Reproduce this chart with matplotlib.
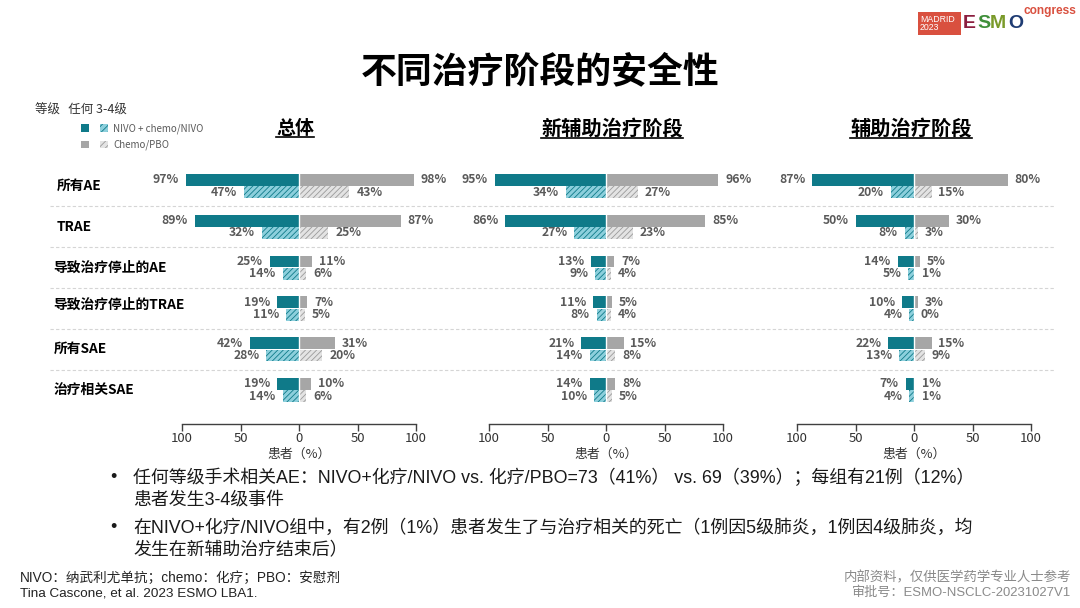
import matplotlib
matplotlib.use("Agg")
import matplotlib.pyplot as plt
import matplotlib.transforms as mtransforms
from matplotlib.patches import Rectangle
from matplotlib.lines import Line2D

plt.rcParams['font.family'] = ['Noto Sans CJK SC', 'DejaVu Sans']
plt.rcParams['hatch.linewidth'] = 0.6
ARIAL_CJK = ['Liberation Sans', 'Noto Sans CJK SC']

# data
categories = ["所有AE", "TRAE", "导致治疗停止的AE", "导致治疗停止的TRAE", "所有SAE", "治疗相关SAE"]
panel_titles = ["总体", "新辅助治疗阶段", "辅助治疗阶段"]

nivo_any = [[97, 89, 25, 19, 42, 19], [95, 86, 13, 11, 21, 14], [87, 50, 14, 10, 22, 7]]
nivo_34 = [[47, 32, 14, 11, 28, 14], [34, 27, 9, 8, 14, 10], [20, 8, 5, 4, 13, 4]]
pbo_any = [[98, 87, 11, 7, 31, 10], [96, 85, 7, 5, 15, 8], [80, 30, 5, 3, 15, 1]]
pbo_34 = [[43, 25, 6, 5, 20, 6], [27, 23, 4, 4, 8, 5], [15, 3, 1, 0, 9, 1]]

xticks = [-100, -50, 0, 50, 100]
xtick_labels = ["100", "50", "0", "50", "100"]

TEAL = "#0f7a89"
TEAL_L = "#8ccfdc"
GRAY = "#a6a6a6"
GRAY_L = "#e3e3e3"
GRAY_H = "#9a9a9a"
TXT = "#5a5a5a"

W, H = 1080, 608
fig = plt.figure(figsize=(10.8, 6.08), dpi=100)
fig.patch.set_facecolor("white")
renderer = fig.canvas.get_renderer()


def fx(px):
    return px / W


def fy(py):
    return 1 - py / H


def fit(t, width_px):
    # scale a text's font size so it spans roughly the width seen on the slide
    w = t.get_window_extent(renderer=renderer).width
    t.set_fontsize(t.get_fontsize() * width_px / w)


panel_left = [182, 489, 797]
panel_w = 234
ax_top, ax_bot = 165, 424
bh = 0.29
axes = []
for p in range(3):
    ax = fig.add_axes([fx(panel_left[p]), fy(ax_bot), fx(panel_w), (ax_bot - ax_top) / H])
    axes.append(ax)
    ax.set_xlim(-100, 100)
    ax.set_ylim(5.83, -0.515)
    ys = list(range(len(categories)))
    y1 = [y - 0.15 for y in ys]
    y2 = [y + 0.15 for y in ys]
    ax.barh(y1, [-v for v in nivo_any[p]], height=bh, color=TEAL, linewidth=0)
    ax.barh(y1, pbo_any[p], height=bh, color=GRAY, linewidth=0)
    ax.barh(y2, [-v for v in nivo_34[p]], height=bh, color=TEAL_L, edgecolor=TEAL,
            hatch="//////", linewidth=0)
    ax.barh(y2, pbo_34[p], height=bh, color=GRAY_L, edgecolor=GRAY_H,
            hatch="//////", linewidth=0)
    ax.axvline(0, color="white", lw=1.0)
    for i in ys:
        for val, yy, side in [(nivo_any[p][i], y1[i], -1), (pbo_any[p][i], y1[i], 1),
                              (nivo_34[p][i], y2[i], -1), (pbo_34[p][i], y2[i], 1)]:
            ax.annotate(f"{val}%", (side * val, yy), xytext=(side * 5, 0),
                        textcoords="offset points", ha="right" if side < 0 else "left",
                        va="center", fontsize=8.8, color=TXT, fontweight="bold",
                        annotation_clip=False)
    for s in ["top", "right", "left"]:
        ax.spines[s].set_visible(False)
    ax.spines["bottom"].set_color("#404040")
    ax.spines["bottom"].set_linewidth(1.0)
    ax.set_yticks([])
    ax.set_xticks(xticks)
    ax.set_xticklabels(xtick_labels)
    ax.tick_params(axis="x", direction="out", length=5, width=1.0, color="#404040",
                   labelsize=9.5, labelcolor="#333333", pad=1)
    ax.set_xlabel("患者（%）", fontsize=9.3, color="#333333", labelpad=2)
    ax.patch.set_alpha(0)

# dashed row separators across the page
blend = mtransforms.blended_transform_factory(fig.transFigure, axes[0].transData)
for i in range(len(categories) - 1):
    fig.add_artist(Line2D([fx(50), fx(1055)], [i + 0.5, i + 0.5], transform=blend,
                          color="#d5d5d5", lw=0.8, ls=(0, (3, 2)), zorder=0))

# row labels
label_px = [57, 57, 53, 53, 54, 54]
label_dy = [0, 0, 0, -0.1, 0, 0]
for i, cat in enumerate(categories):
    fig.text(fx(label_px[i]), i + label_dy[i], cat, transform=blend, fontsize=9.9,
             fontweight="bold", color="black", va="center", ha="left")

# titles
t = fig.text(0.5, fy(72), "不同治疗阶段的安全性", fontsize=20, fontweight="bold",
             ha="center", va="center", color="black")
fit(t, 358)
sub_x = [295, 612, 911]
sub_w = [38, 142, 122]
sub_texts = []
for p in range(3):
    t = fig.text(fx(sub_x[p]), fy(129), panel_titles[p], fontsize=14, fontweight="bold",
                 ha="center", va="center", color="black")
    fit(t, sub_w[p])
    sub_texts.append(t)

# legend
fig.text(fx(35), fy(110), "等级   任何 3-4级", fontsize=9, color="#333333", va="center")
for row, (c1, c2, ec, lab) in enumerate([(TEAL, TEAL_L, TEAL, "NIVO + chemo/NIVO"),
                                         (GRAY, GRAY_L, GRAY_H, "Chemo/PBO")]):
    yc = 128.5 + row * 16
    fig.add_artist(Rectangle((fx(81), fy(yc + 3.5)), fx(8), 7.5 / H, transform=fig.transFigure,
                             facecolor=c1, linewidth=0))
    fig.add_artist(Rectangle((fx(100), fy(yc + 3.5)), fx(8), 7.5 / H, transform=fig.transFigure,
                             facecolor=c2, edgecolor=ec, hatch="/////", linewidth=0))
    fig.text(fx(113), fy(yc), lab, fontsize=7, color=TXT, va="center")

# bullets
bullets = [
    ("任何等级手术相关AE：NIVO+化疗/NIVO vs. 化疗/PBO=73（41%） vs. 69（39%）；每组有21例（12%）", 478),
    ("患者发生3-4级事件", 500),
    ("在NIVO+化疗/NIVO组中，有2例（1%）患者发生了与治疗相关的死亡（1例因5级肺炎，1例因4级肺炎，均", 528),
    ("发生在新辅助治疗结束后）", 551),
]
btexts = []
for txt, yy in bullets:
    btexts.append(fig.text(fx(133), fy(yy), txt, fontsize=12, color="#1a1a1a",
                           va="center", family=ARIAL_CJK))
w1 = btexts[0].get_window_extent(renderer=renderer).width
w3 = btexts[2].get_window_extent(renderer=renderer).width
bsize = 12 * ((838 / w1) + (845 / w3)) / 2
for t in btexts:
    t.set_fontsize(bsize)
for yy in [478, 528]:
    fig.text(fx(110), fy(yy), "•", fontsize=13, color="#1a1a1a", va="center",
             family=ARIAL_CJK)

# footnotes
t = fig.text(fx(20), fy(578), "NIVO：纳武利尤单抗；chemo：化疗；PBO：安慰剂", fontsize=8,
             color="#222222", va="center", family=ARIAL_CJK)
fit(t, 320)
t = fig.text(fx(20), fy(593), "Tina Cascone, et al. 2023 ESMO LBA1.", fontsize=8,
             color="#222222", va="center", family=ARIAL_CJK)
fit(t, 238)
t = fig.text(fx(1071), fy(578), "内部资料，仅供医学药学专业人士参考", fontsize=8,
             color="#8a8a8a", va="center", ha="right", family=ARIAL_CJK)
fit(t, 229)
t = fig.text(fx(1071), fy(593), "审批号：ESMO-NSCLC-20231027V1", fontsize=8,
             color="#8a8a8a", va="center", ha="right", family=ARIAL_CJK)
fit(t, 220)

# congress logo
fig.add_artist(Rectangle((fx(918), fy(35)), fx(43), 23 / H, transform=fig.transFigure,
                         facecolor="#d9503f", linewidth=0))
fig.text(fx(920), fy(23.5), "MADRID\n2023", fontsize=6.3, color="white", va="center",
         ha="left", linespacing=0.85, family=ARIAL_CJK)
for ch, col, px in [("E", "#8b1e3f", 963), ("S", "#3f8f3a", 977), ("M", "#7a9a2a", 990),
                    ("O", "#1f3c73", 1008)]:
    fig.text(fx(px), fy(24), ch, fontsize=14, fontweight="bold", color=col, va="center",
             ha="left", family=ARIAL_CJK)
t = fig.text(fx(1024), fy(11), "congress", fontsize=9, fontweight="bold", color="#d9503f",
             va="center", ha="left", family=ARIAL_CJK)
fit(t, 53)

# underline panel titles
for t in sub_texts:
    bb = t.get_window_extent(renderer=renderer).transformed(fig.transFigure.inverted())
    fig.add_artist(Line2D([bb.x0, bb.x1], [bb.y0 + 0.002, bb.y0 + 0.002],
                          transform=fig.transFigure, color="black", lw=1.2))

fig.savefig("out.png", dpi=100)
